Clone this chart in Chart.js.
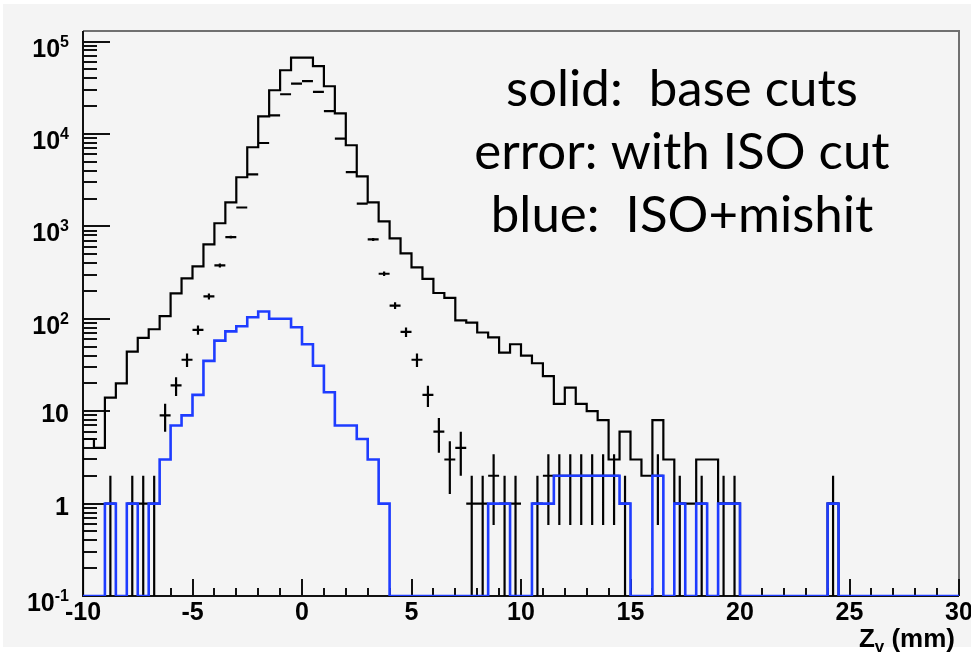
<!DOCTYPE html>
<html>
<head>
<meta charset="utf-8">
<script src="https://cdn.jsdelivr.net/npm/chart.js@4.4.1/dist/chart.umd.min.js"></script>
<style>
body { margin: 0; background: #ffffff; }
canvas { display: block; }
</style>
</head>
<body>
<canvas id="zv" width="971" height="655"></canvas>
<script>
var binLow = -10
var binWidth = 0.5

// base cuts (solid black), 0.5 mm bins from -10 to 30
var solidCounts = [5, 4, 14, 20, 44, 62, 77, 107, 188, 273,
    369, 638, 1080, 1820, 3400, 7180, 15500, 29700, 48900, 67000,
    67000, 54100, 32800, 16700, 7540, 3480, 1820, 1130, 741, 510,
    360, 270, 190, 168, 96, 91, 71, 63, 43, 53,
    40, 33, 24, 12, 18, 12, 10, 8, 3, 6,
    3, 2, 8, 3, 1, 1, 3, 3, 1, 1,
    0, 0, 0, 0, 0, 0, 0, 0, 1, 0,
    0, 0, 0, 0, 0, 0, 0, 0, 0, 0]

// with ISO cut (error bars)
var isoCounts = [0, 0, 1, 0, 1, 1, 1, 9, 19, 36,
    76, 175, 378, 766, 1600, 3660, 7980, 15900, 26900, 35100,
    37200, 28500, 17700, 8900, 3870, 1760, 723, 307, 139, 72,
    36, 15, 6, 3, 4, 1, 1, 2, 1, 1,
    0, 1, 2, 2, 2, 2, 2, 2, 2, 1,
    0, 0, 2, 0, 1, 0, 1, 0, 1, 1,
    0, 0, 0, 0, 0, 0, 0, 0, 1, 0,
    0, 0, 0, 0, 0, 0, 0, 0, 0, 0]

// ISO + mishit (blue)
var mishitCounts = [0, 0, 1, 0, 1, 0, 1, 3, 7, 9,
    15, 35, 58, 73, 83, 104, 120, 100, 100, 81,
    53, 31, 16, 7, 7, 5, 3, 1, 0, 0,
    0, 0, 0, 0, 0, 0, 0, 1, 1, 0,
    0, 1, 1, 2, 2, 2, 2, 2, 2, 1,
    0, 0, 2, 0, 1, 0, 1, 0, 1, 1,
    0, 0, 0, 0, 0, 0, 0, 0, 1, 0,
    0, 0, 0, 0, 0, 0, 0, 0, 0, 0]

var yTicks = [0.1, 1, 10, 100, 1000, 10000, 100000]
var yExponents = ['-1', '', '', '2', '3', '4', '5']
var yBases = ['10', '1', '10', '10', '10', '10', '10']
var notes = ['solid:  base cuts', 'error: with ISO cut', 'blue:  ISO+mishit']
var xTitle = ['Z', 'v', ' (mm)']
var yMin = 0.1
var yMax = 1.3e5

function stepPoints(counts){
    var pts = [{x: binLow, y: yMin}]
    for (var i = 0; i < counts.length; i++) {
        pts.push({x: binLow + i * binWidth, y: counts[i] > 0 ? counts[i] : yMin})
    }
    var end = binLow + counts.length * binWidth
    var last = counts[counts.length - 1]
    pts.push({x: end, y: last > 0 ? last : yMin})
    pts.push({x: end, y: yMin})
    return pts
}

function errorPoints(counts){
    var pts = []
    for (var i = 0; i < counts.length; i++) {
        if (counts[i] > 0) pts.push({x: binLow + (i + 0.5) * binWidth, y: counts[i]})
    }
    return pts
}

var background = {
    id: 'background',
    beforeDraw: function(chart){
        var ctx = chart.ctx
        ctx.save()
        ctx.fillStyle = '#ffffff'
        ctx.fillRect(0, 0, chart.width, chart.height)
        ctx.fillStyle = '#f4f4f4'
        ctx.fillRect(3, 4, chart.width - 3, 643)
        ctx.restore()
    }
}

var frame = {
    id: 'frame',
    beforeDatasetsDraw: function(chart){
        var ctx = chart.ctx, a = chart.chartArea
        var xs = chart.scales.x, ys = chart.scales.y
        ctx.save()
        ctx.lineWidth = 2
        ctx.strokeStyle = '#707070'
        ctx.beginPath()
        ctx.moveTo(a.left, a.top)
        ctx.lineTo(a.right, a.top)
        ctx.lineTo(a.right, a.bottom)
        ctx.stroke()
        ctx.strokeStyle = '#111111'
        ctx.beginPath()
        ctx.moveTo(a.left, a.top)
        ctx.lineTo(a.left, a.bottom)
        ctx.lineTo(a.right, a.bottom)
        for (var d = yMin; d < yMax; d *= 10) {
            for (var m = 1; m < 10; m++) {
                var v = m * d
                if (v > yMax) break
                var py = Math.round(ys.getPixelForValue(v))
                ctx.moveTo(a.left, py)
                ctx.lineTo(a.left + (m == 1 ? 27 : 14), py)
            }
        }
        for (var t = -10; t <= 30; t++) {
            var px = Math.round(xs.getPixelForValue(t))
            ctx.moveTo(px, a.bottom)
            ctx.lineTo(px, a.bottom - (t % 5 == 0 ? 17 : 8))
        }
        ctx.stroke()

        // decade labels with raised exponents
        ctx.fillStyle = '#000000'
        ctx.textAlign = 'right'
        ctx.textBaseline = 'alphabetic'
        var right = a.left - 14
        for (var i = 0; i < yTicks.length; i++) {
            var ty = ys.getPixelForValue(yTicks[i])
            ctx.font = 'bold 16px "Liberation Sans"'
            var sw = yExponents[i] ? ctx.measureText(yExponents[i]).width : 0
            if (sw) ctx.fillText(yExponents[i], right, ty + 5)
            ctx.font = 'bold 25px "Liberation Sans"'
            ctx.fillText(yBases[i], right - sw, ty + (sw ? 15 : 11))
        }
        ctx.restore()
    }
}

var errorBars = {
    id: 'errorBars',
    afterDatasetDraw: function(chart, args){
        var ds = chart.data.datasets[args.index]
        if (ds.label != 'error') return
        var ctx = chart.ctx, xs = chart.scales.x, ys = chart.scales.y
        ctx.save()
        ctx.strokeStyle = '#000000'
        ctx.lineWidth = 2.2
        ctx.beginPath()
        ds.data.forEach(function(p){
            var e = Math.sqrt(p.y)
            var lo = Math.max(p.y - e, yMin)
            var py = ys.getPixelForValue(p.y)
            ctx.moveTo(xs.getPixelForValue(p.x - binWidth / 2), py)
            ctx.lineTo(xs.getPixelForValue(p.x + binWidth / 2), py)
            ctx.moveTo(xs.getPixelForValue(p.x), ys.getPixelForValue(lo))
            ctx.lineTo(xs.getPixelForValue(p.x), ys.getPixelForValue(p.y + e))
        })
        ctx.stroke()
        ctx.restore()
    }
}

var texts = {
    id: 'texts',
    afterDraw: function(chart){
        var ctx = chart.ctx
        ctx.save()
        ctx.fillStyle = '#000000'
        ctx.font = '51px Lato'
        ctx.textAlign = 'center'
        ctx.textBaseline = 'alphabetic'
        for (var i = 0; i < notes.length; i++) {
            ctx.fillText(notes[i], 682, 106 + i * 63)
        }
        ctx.textAlign = 'left'
        var big = 'bold 26px "Liberation Sans"'
        var small = 'bold 17px "Liberation Sans"'
        ctx.font = big
        var w0 = ctx.measureText(xTitle[0]).width
        var w2 = ctx.measureText(xTitle[2]).width
        ctx.font = small
        var w1 = ctx.measureText(xTitle[1]).width
        var x0 = 955 - w0 - w1 - w2
        ctx.font = big
        ctx.fillText(xTitle[0], x0, 647)
        ctx.fillText(xTitle[2], x0 + w0 + w1, 647)
        ctx.font = small
        ctx.fillText(xTitle[1], x0 + w0, 652)
        ctx.restore()
    }
}

var ctx = document.getElementById('zv')
var chart = new Chart(ctx, {
    type: 'line',
    data: {
        datasets: [
            {
                label: 'blue',
                data: stepPoints(mishitCounts),
                stepped: 'before',
                borderColor: '#1e3cff',
                borderWidth: 2.6,
                pointRadius: 0,
                fill: false
            },
            {
                label: 'error',
                data: errorPoints(isoCounts),
                showLine: false,
                pointRadius: 0,
                borderColor: '#000000'
            },
            {
                label: 'solid',
                data: stepPoints(solidCounts),
                stepped: 'before',
                borderColor: '#000000',
                borderWidth: 2.2,
                pointRadius: 0,
                fill: false
            }
        ]
    },
    options: {
        responsive: false,
        animation: false,
        layout: {padding: {top: 31, right: 12, left: 0, bottom: 0}},
        plugins: {legend: {display: false}, tooltip: {enabled: false}},
        scales: {
            x: {
                type: 'linear',
                min: -10,
                max: 30,
                grid: {display: false, drawTicks: false},
                border: {display: false},
                ticks: {
                    stepSize: 5,
                    padding: 2,
                    color: '#000000',
                    maxRotation: 0,
                    font: {family: '"Liberation Sans"', size: 25, weight: 'bold'}
                },
                afterFit: function(scale){
                    scale.height = 59
                    scale.paddingLeft = 0
                    scale.paddingRight = 0
                }
            },
            y: {
                type: 'logarithmic',
                min: yMin,
                max: yMax,
                grid: {display: false, drawTicks: false},
                border: {display: false},
                afterBuildTicks: function(scale){
                    scale.ticks = yTicks.map(function(v){ return {value: v} })
                },
                ticks: {display: false},
                afterFit: function(scale){
                    scale.width = 83
                }
            }
        }
    },
    plugins: [background, frame, errorBars, texts]
})
</script>
</body>
</html>
